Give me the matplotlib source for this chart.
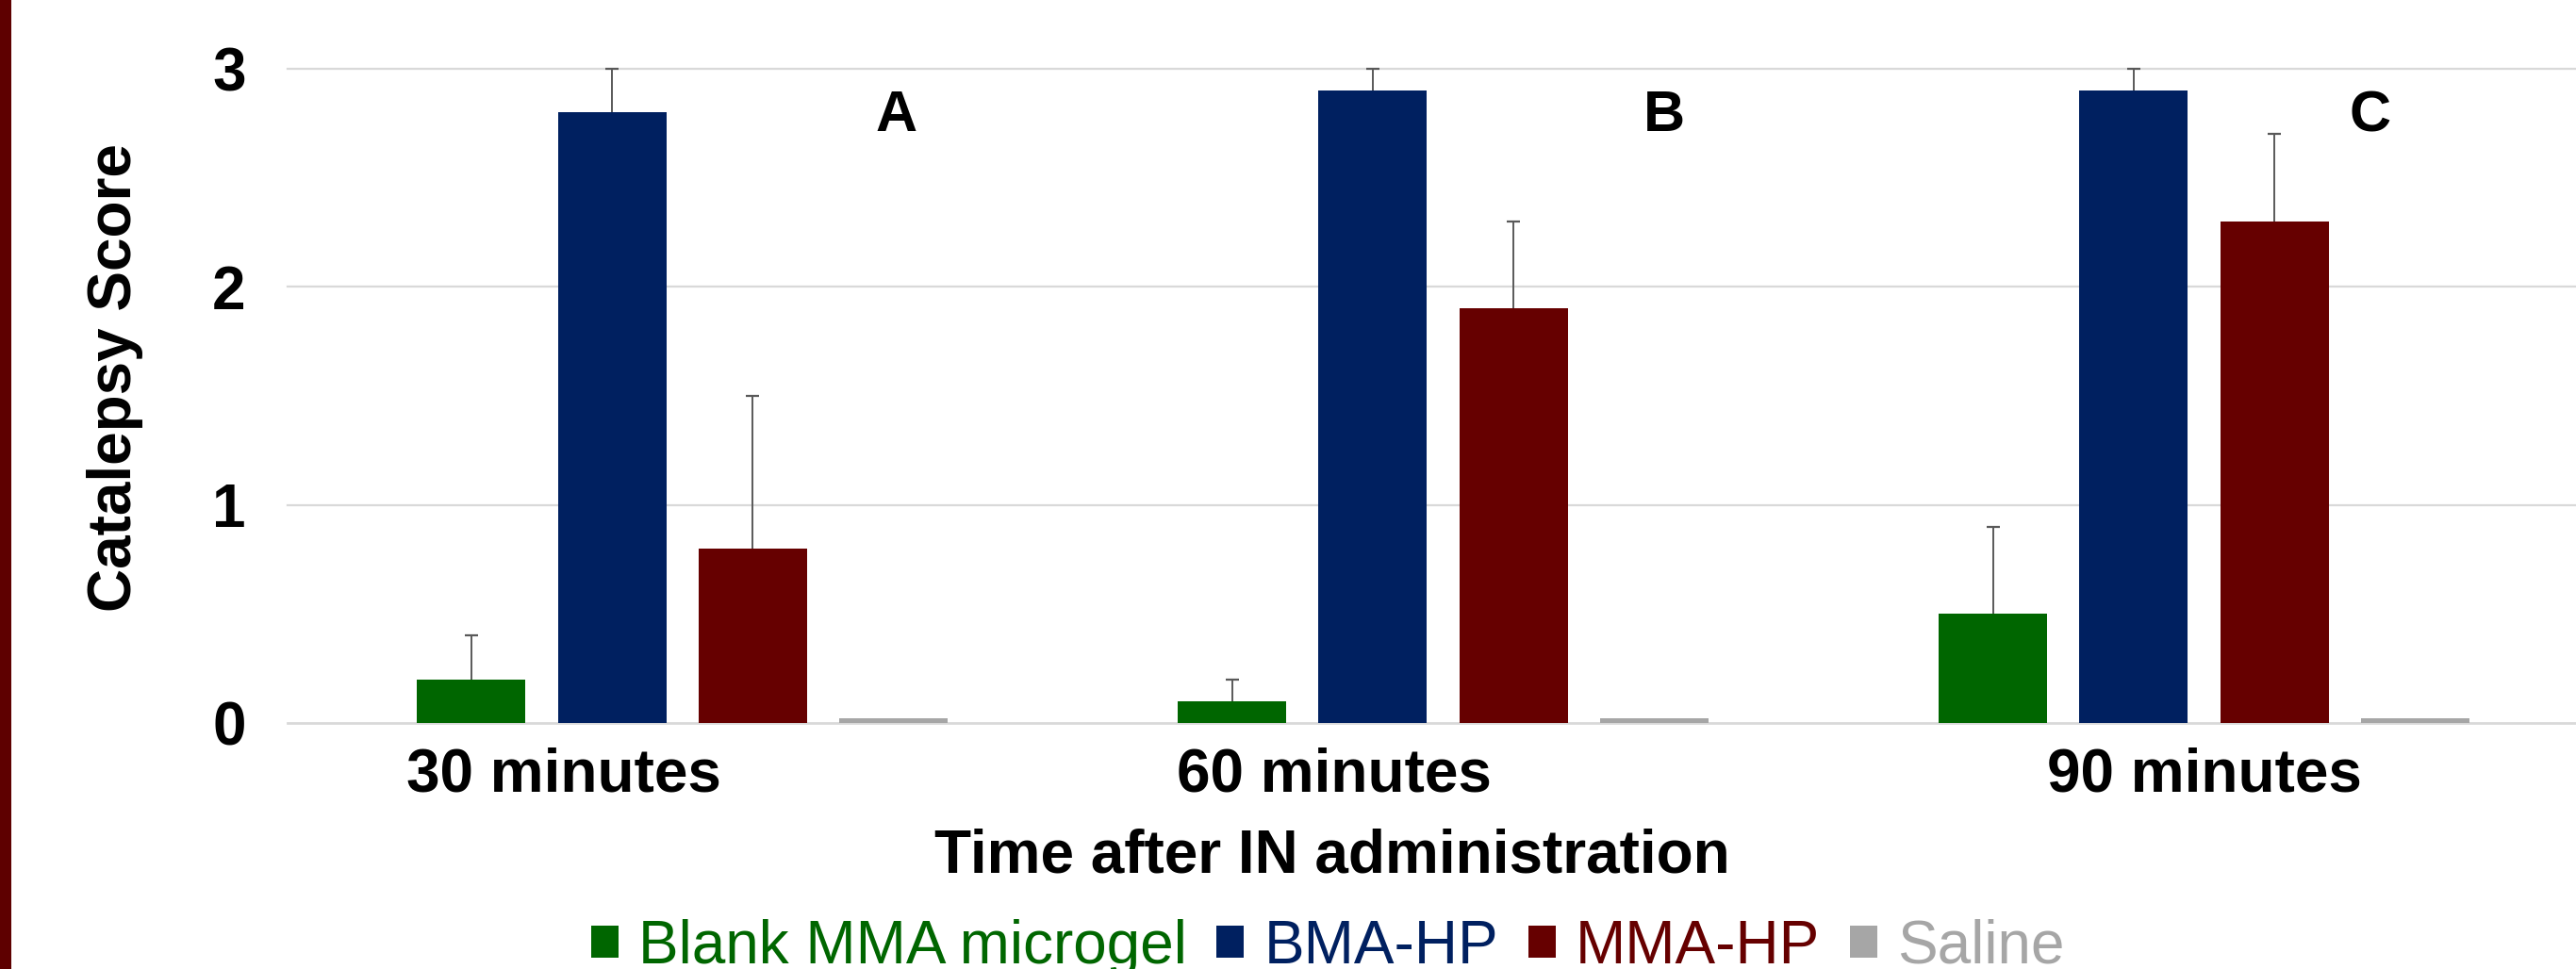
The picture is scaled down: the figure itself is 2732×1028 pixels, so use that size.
import matplotlib.pyplot as plt
from matplotlib.patches import Patch, Rectangle

# data
categories = ['30 minutes', '60 minutes', '90 minutes']
panel_letters = ['A', 'B', 'C']
series_names = ['Blank MMA microgel', 'BMA-HP', 'MMA-HP', 'Saline']
series_colors = ['#006600', '#002060', '#660000', '#a6a6a6']

blank_mean = [0.2, 0.1, 0.5]
blank_err = [0.2, 0.1, 0.4]
bma_mean = [2.8, 2.9, 2.9]
bma_err = [0.2, 0.1, 0.1]
mma_mean = [0.8, 1.9, 2.3]
mma_err = [0.7, 0.4, 0.4]
saline_mean = [0.02, 0.02, 0.02]
saline_err = [0, 0, 0]

plt.rcParams['font.family'] = ['Liberation Sans', 'DejaVu Sans']

W, H = 2732, 1028
fig = plt.figure(figsize=(W / 100, H / 100), dpi=100)

# axes placed to match the pixel layout of the original
left_px, right_px, top_px, bottom_px = 305, 2732, 73, 767
ax = fig.add_axes([left_px / W, 1 - bottom_px / H,
                   (right_px - left_px) / W, (bottom_px - top_px) / H])

means = [blank_mean, bma_mean, mma_mean, saline_mean]
errs = [blank_err, bma_err, mma_err, saline_err]
step = 0.185
width = 0.1425
group_x = list(range(len(categories)))

for j, (m, e, c) in enumerate(zip(means, errs, series_colors)):
    xs = [g + (j - 1.5) * step for g in group_x]
    ax.bar(xs, m, width=width, color=c, zorder=3)
    if any(e):
        # upper error only, cap on top
        tops = [mv + ev for mv, ev in zip(m, e)]
        ax.vlines(xs, m, tops, color='#595959', lw=1.4, zorder=4)
        ax.plot(xs, tops, ls='none', marker='_', ms=10, mew=1.6,
                color='#595959', zorder=4, clip_on=False)

# gridlines
for yv in [1, 2, 3]:
    ax.axhline(yv, color='#d9d9d9', lw=1.6, zorder=1, clip_on=False)
ax.axhline(0, color='#d9d9d9', lw=2.0, zorder=2, clip_on=False)

ax.set_ylim(0, 3)
ax.set_xlim(-0.519, 2.489)
ax.set_yticks([0, 1, 2, 3])
ax.set_yticklabels(['0', '1', '2', '3'], fontsize=46, fontweight='bold')
ax.tick_params(axis='y', length=0, pad=32)

# category labels are not centred on the groups in the original
label_pos = [-0.156, 0.857, 2.0]
ax.set_xticks(label_pos)
ax.set_xticklabels(categories, fontsize=46, fontweight='bold')
ax.tick_params(axis='x', length=0, pad=18)

for s in ax.spines.values():
    s.set_visible(False)

letter_pos = [0.281, 1.291, 2.218]
for lx, lt in zip(letter_pos, panel_letters):
    ax.text(lx, 2.78, lt, fontsize=44, fontweight='bold',
            ha='center', va='center', zorder=5)

fig.text(122 / W, 1 - 401 / H, 'Catalepsy Score', rotation=90,
         fontsize=46, fontweight='bold', ha='center', va='center')
fig.text(1413 / W, 1 - 908 / H, 'Time after IN administration',
         fontsize=46, fontweight='bold', ha='center', va='center')

handles = [Patch(facecolor=c, edgecolor='none') for c in series_colors]
fig.legend(handles, series_names, loc='center', ncol=4,
           bbox_to_anchor=(1408 / W, 1 - 1005 / H), frameon=False,
           fontsize=46, labelcolor=series_colors,
           handlelength=0.45, handleheight=0.45, handletextpad=0.33,
           columnspacing=0.5, borderpad=0, borderaxespad=0)

# dark red strip on the left edge
fig.patches.append(Rectangle((0, 0), 12 / W, 1, transform=fig.transFigure,
                             facecolor='#5e0000', edgecolor='none'))

fig.savefig('out.png', dpi=100)
